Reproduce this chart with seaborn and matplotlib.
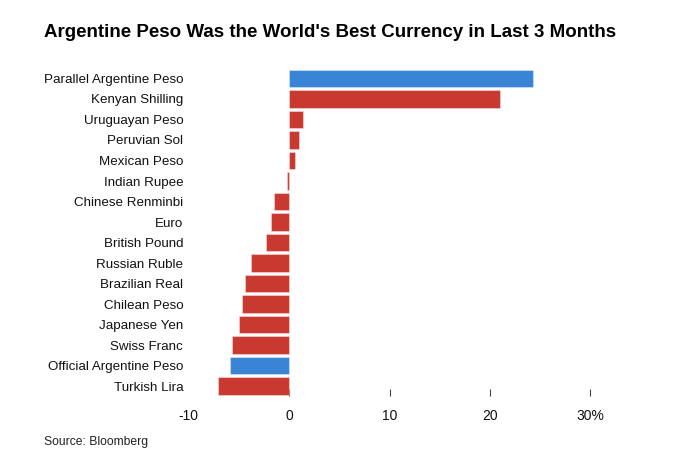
import pandas as pd
import seaborn as sns
from matplotlib import pyplot as plt

currencies = ["Parallel Argentine Peso", "Kenyan Shilling", "Uruguayan Peso", "Peruvian Sol",
              "Mexican Peso", "Indian Rupee", "Chinese Renminbi", "Euro", "British Pound",
              "Russian Ruble", "Brazilian Real", "Chilean Peso", "Japanese Yen", "Swiss Franc",
              "Official Argentine Peso", "Turkish Lira"]
change_pct = [24.3, 21.0, 1.35, 0.95, 0.55, -0.25, -1.5, -1.85, -2.35,
              -3.8, -4.4, -4.7, -4.95, -5.65, -5.85, -7.05]
group = ["Argentina", "Other", "Other", "Other", "Other", "Other", "Other", "Other", "Other",
         "Other", "Other", "Other", "Other", "Other", "Argentina", "Other"]
x_ticks = [-10, 0, 10, 20, 30]
x_labels = ["-10", "0", "10", "20", "30%"]

df = pd.DataFrame({"currency": currencies, "change": change_pct, "group": group})

sns.set_style("white")
plt.rcParams["font.family"] = ["Liberation Sans", "DejaVu Sans"]

fig = plt.figure(figsize=(6.8, 4.68), dpi=100)
ax = fig.add_axes([0.2775, 0.1532, 0.635, 0.701])

sns.barplot(data=df, x="change", y="currency", hue="group", dodge=False, width=0.85,
            saturation=1, palette={"Argentina": "#3a84d5", "Other": "#c8392f"},
            legend=False, ax=ax)
for p in ax.patches:
    p.set_edgecolor((1, 1, 1, 0.35))
    p.set_linewidth(0.8)

ax.set_xlim(-10, 33)
ax.set_ylim(15.5, -0.5)
ax.set_xticks(x_ticks)
ax.set_xticklabels(x_labels)
ax.set_xlabel("")
ax.set_ylabel("")
sns.despine(ax=ax, left=True, bottom=True)
ax.tick_params(axis="x", direction="in", length=5, width=0.8, color="#444444",
               labelsize=10, pad=9, bottom=True)
ax.tick_params(axis="y", length=0, labelsize=9.6, pad=4)
ax.xaxis.get_major_ticks()[0].tick1line.set_visible(False)
for lbl in ax.get_yticklabels() + ax.get_xticklabels():
    lbl.set_color("#111111")

fig.text(0.0647, 0.93, "Argentine Peso Was the World's Best Currency in Last 3 Months",
         fontsize=13.5, fontweight="bold", va="center", ha="left", color="black")
fig.text(0.0647, 0.056, "Source: Bloomberg", fontsize=8.7, va="center", ha="left",
         color="#222222")

fig.savefig("out.png", dpi=100)
